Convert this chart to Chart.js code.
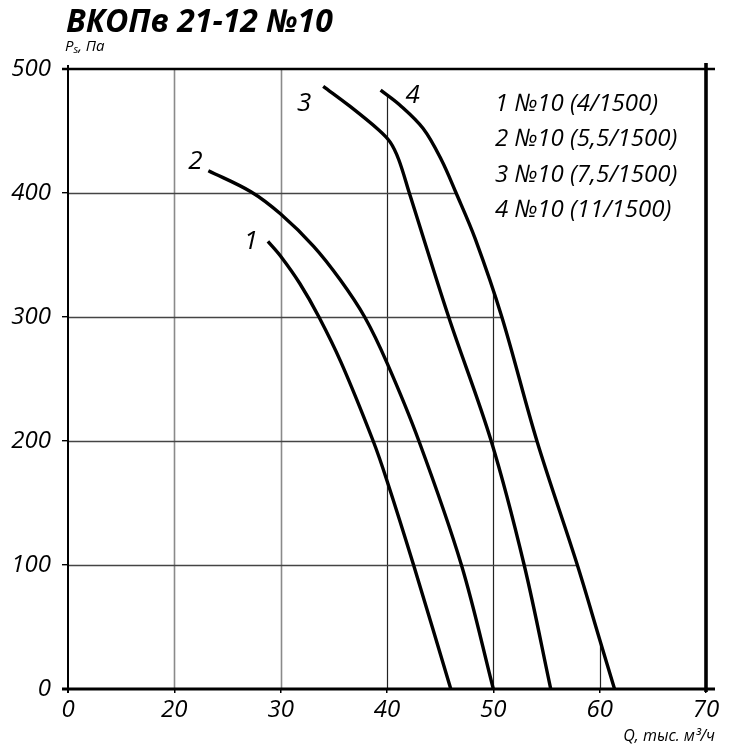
<!DOCTYPE html>
<html lang="ru">
<head>
<meta charset="utf-8">
<title>ВКОПв 21-12 №10</title>
<script src="https://cdn.jsdelivr.net/npm/chart.js@4.4.1/dist/chart.umd.min.js"></script>
<style>
  html, body { margin: 0; padding: 0; background: #fff; }
  #wrap { position: relative; width: 729px; height: 747px; }
</style>
</head>
<body>
<div id="wrap"><canvas id="chart" width="729" height="747"></canvas></div>
<script>
// Q axis: the left edge is labelled "0" but sits one step before 20 (broken axis)
const xTickValues = [10, 20, 30, 40, 50, 60, 70];
const xTickLabels = ['0', '20', '30', '40', '50', '60', '70'];
const yTickValues = [0, 100, 200, 300, 400, 500];

const curveNames = ['1', '2', '3', '4'];
const legendLines = [
  '1 №10 (4/1500)',
  '2 №10 (5,5/1500)',
  '3 №10 (7,5/1500)',
  '4 №10 (11/1500)',
];

// Q, thousand m3/h
const q1 = [28.8, 30.0, 31.8, 33.6, 35.7, 38.7, 40.0, 42.5, 46.0];
const q2 = [23.2, 27.2, 30.0, 33.1, 35.6, 37.9, 40.0, 43.0, 47.0, 50.0];
const q3 = [34.0, 36.5, 39.2, 40.3, 41.1, 42.1, 45.8, 49.8, 52.9, 55.4];
const q4 = [39.4, 41.2, 43.4, 45.1, 46.5, 48.3, 50.8, 54.1, 57.9, 60.0, 61.4];
// Ps, Pa
const p1 = [361, 349, 327, 300, 263, 200, 168, 100, 0];
const p2 = [418, 401, 383, 357, 330, 300, 263, 200, 100, 0];
const p3 = [486, 470, 451, 441, 427, 400, 300, 200, 100, 0];
const p4 = [483, 471, 452, 427, 400, 363, 300, 200, 100, 40, 0];

const FONT = "'Open Sans', 'DejaVu Sans', sans-serif";

function toPoints(qs, ps) {
  return qs.map((q, i) => ({ x: q, y: ps[i] }));
}

function curve(label, qs, ps) {
  return {
    label,
    data: toPoints(qs, ps),
    borderColor: '#000',
    borderWidth: 3.4,
    pointRadius: 0,
    fill: false,
    tension: 0.35,
  };
}

/**
 * Grid lines only exist below the outermost curve (4), so clip them to it.
 */
const clippedGrid = {
  id: 'clippedGrid',
  beforeDatasetsDraw(chart) {
    const { ctx, chartArea: a, scales: { x, y } } = chart;
    const meta = chart.getDatasetMeta(3);
    const line = meta.dataset;
    line.updateControlPoints(a, 'x');

    ctx.save();
    ctx.beginPath();
    line.path(ctx);
    ctx.lineTo(a.left, a.bottom);
    ctx.lineTo(a.left, a.top);
    ctx.lineTo(meta.data[0].x, a.top);
    ctx.closePath();
    ctx.clip();

    xTickValues.slice(1, -1).forEach((v) => {
      const px = Math.round(x.getPixelForValue(v)) + 0.5;
      ctx.strokeStyle = v < 40 ? '#8a8a8a' : '#222';
      ctx.lineWidth = v < 40 ? 1.6 : 1.2;
      ctx.beginPath();
      ctx.moveTo(px, a.top);
      ctx.lineTo(px, a.bottom);
      ctx.stroke();
    });
    yTickValues.slice(1, -1).forEach((v) => {
      const py = Math.round(y.getPixelForValue(v)) + 0.5;
      ctx.strokeStyle = '#444';
      ctx.lineWidth = 1.4;
      ctx.beginPath();
      ctx.moveTo(a.left, py);
      ctx.lineTo(a.right, py);
      ctx.stroke();
    });
    ctx.restore();
  },
};

function strokeLine(ctx, x0, y0, x1, y1, w) {
  ctx.lineWidth = w;
  ctx.beginPath();
  ctx.moveTo(x0, y0);
  ctx.lineTo(x1, y1);
  ctx.stroke();
}

/**
 * Frame, title, axis captions, curve numbers and the legend text block.
 */
const decorations = {
  id: 'decorations',
  afterDraw(chart) {
    const { ctx, chartArea: a } = chart;
    ctx.save();
    ctx.strokeStyle = '#000';
    strokeLine(ctx, a.left - 6, a.top, a.right + 9, a.top, 2.6);
    strokeLine(ctx, a.left - 6, a.bottom, a.right + 9, a.bottom, 3);
    strokeLine(ctx, a.left, a.top - 4, a.left, a.bottom + 4, 2);
    strokeLine(ctx, a.right, a.top - 6, a.right, a.bottom + 3, 3.6);

    ctx.fillStyle = '#000';
    ctx.textBaseline = 'alphabetic';
    ctx.textAlign = 'left';
    ctx.font = `italic 700 32px ${FONT}`;
    ctx.fillText('ВКОПв 21-12 №10', 66, 32);

    ctx.font = `italic 15px ${FONT}`;
    ctx.fillText('P', 65, 51);
    let w = ctx.measureText('P').width;
    ctx.font = `italic 11px ${FONT}`;
    ctx.fillText('s', 65 + w, 53);
    w += ctx.measureText('s').width;
    ctx.font = `italic 15px ${FONT}`;
    ctx.fillText(', Па', 65 + w, 51);

    ctx.textAlign = 'right';
    ctx.font = `italic 16px ${FONT}`;
    ctx.fillText('Q, тыс. м³/ч', 715, 741);

    // curve numbers placed next to the first point of each curve
    const offsets = [[-17, 8], [-13, -2], [-19, 25], [32, 13]];
    ctx.textAlign = 'center';
    ctx.font = `italic 26px ${FONT}`;
    curveNames.forEach((name, i) => {
      const p0 = chart.getDatasetMeta(i).data[0];
      ctx.fillText(name, p0.x + offsets[i][0], p0.y + offsets[i][1]);
    });

    ctx.textAlign = 'left';
    ctx.textBaseline = 'middle';
    ctx.font = `italic 24px ${FONT}`;
    legendLines.forEach((t, i) => {
      ctx.fillText(t, 495, 104 + i * 35.4);
    });
    ctx.restore();
  },
};

new Chart(document.getElementById('chart'), {
  type: 'line',
  data: {
    datasets: [
      curve(curveNames[0], q1, p1),
      curve(curveNames[1], q2, p2),
      curve(curveNames[2], q3, p3),
      curve(curveNames[3], q4, p4),
    ],
  },
  options: {
    responsive: false,
    animation: false,
    layout: { padding: { left: 0, top: 69, right: 23, bottom: 0 } },
    plugins: { legend: { display: false }, tooltip: { enabled: false } },
    scales: {
      x: {
        type: 'linear',
        min: 10,
        max: 70,
        afterFit: (s) => { s.height = 58; },
        afterBuildTicks: (s) => { s.ticks = xTickValues.map((v) => ({ value: v })); },
        ticks: {
          callback: (v) => xTickLabels[xTickValues.indexOf(v)],
          font: { family: FONT, size: 24, style: 'italic' },
          color: '#000',
          padding: 3,
          maxRotation: 0,
        },
        grid: { drawOnChartArea: false, tickLength: 4, color: '#000', lineWidth: 1.5 },
        border: { display: false },
      },
      y: {
        type: 'linear',
        min: 0,
        max: 500,
        afterFit: (s) => { s.width = 68; },
        afterBuildTicks: (s) => { s.ticks = yTickValues.map((v) => ({ value: v })); },
        ticks: {
          font: { family: FONT, size: 24, style: 'italic' },
          color: '#000',
          padding: 11,
        },
        grid: { drawOnChartArea: false, tickLength: 6, color: '#000', lineWidth: 1.4 },
        border: { display: false },
      },
    },
  },
  plugins: [clippedGrid, decorations],
});
</script>
</body>
</html>
